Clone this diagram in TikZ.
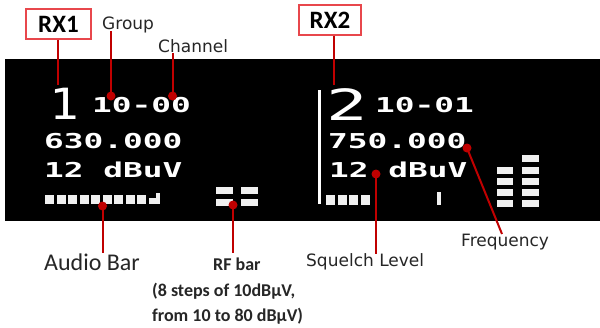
\documentclass[tikz,border=0pt]{standalone}
\usepackage{fontspec}
\setmainfont{Carlito}
\newfontfamily\dvs{DejaVu Sans}
\newfontfamily\lcd{DejaVu Sans Mono}[FakeStretch=1.6]
\definecolor{ared}{HTML}{C00000}
\definecolor{bred}{HTML}{E8474C}
\begin{document}
\begin{tikzpicture}[x=1pt,y=-1pt,
  lcdtxt/.style={text=white,inner sep=0pt,anchor=base west,font=\lcd\bfseries\fontsize{20.5}{20.5}\selectfont},
  bigtxt/.style={text=white,inner sep=0pt,anchor=base west,font=\lcd\fontsize{43}{43}\selectfont},
  seg/.style={fill=white!88!gray,draw=none},
  rxbox/.style={draw=bred,line width=1.3pt,fill=white,minimum width=#1,minimum height=30pt,inner sep=0pt,font=\bfseries\fontsize{25}{25}\selectfont},
  callout/.style={draw=ared,line width=2pt},
  dotmark/.style={circle,fill=ared,inner sep=0pt,minimum size=9pt},
  dvslbl/.style={inner sep=0pt,anchor=base west,text=black!85,font=\dvs\fontsize{17}{17}\selectfont},
  cllbl/.style={inner sep=0pt,anchor=base,text=black!85,font=\fontsize{24}{24}\selectfont},
  bldlbl/.style={inner sep=0pt,anchor=base west,text=black!85,font=\bfseries\fontsize{18}{18}\selectfont}
]
\useasboundingbox (0,0) rectangle (600,327);
\fill[white] (0,0) rectangle (600,327);
% screen
\fill[black] (5,59) rectangle (600,221);

% RX1 display
\node[bigtxt] (one) at (49,119) {\scalebox{0.72}[1]{1}};
\node[lcdtxt] (grpch1) at (92,112) {10-00};
\node[lcdtxt] (freq1) at (44,148) {630.000};
\node[lcdtxt] (sq1) at (44,177) {12 dBuV};
% audio bar RX1
\foreach \i in {0,...,8} {\fill[seg] (45+11.5*\i,195) rectangle (54+11.5*\i,204);}
\fill[seg] (148.5,198) rectangle (156,204);
\fill[seg] (156,193) rectangle (160,204);
% RF bar RX1
\fill[seg] (216,187) rectangle (233,194);
\fill[seg] (241,187) rectangle (258,194);
\fill[seg] (216,199) rectangle (233,206);
\fill[seg] (241,199) rectangle (258,206);

% RX2 display
\fill[white] (318,90) rectangle (321,204);
\node[bigtxt] (two) at (326,120) {2};
\node[lcdtxt] (grpch2) at (375,112) {10-01};
\node[lcdtxt] (freq2) at (328,148) {750.000};
\node[lcdtxt] (sq2) at (329,177) {12 dBuV};
\foreach \i in {0,...,3} {\fill[seg] (326+11.5*\i,195) rectangle (335+11.5*\i,205);}
\fill[seg] (437,192) rectangle (441,205);
\foreach \yy in {167,178,189,200} {\fill[seg] (497,\yy) rectangle (513,\yy+7);}
\foreach \yy in {155,167,178,189,200} {\fill[seg] (522,\yy) rectangle (539,\yy+7);}

% labels
\node[rxbox=65pt] (rx1) at (58.5,24) {RX1};
\node[rxbox=62pt] (rx2) at (330,20) {RX2};
\node[dvslbl] (group) at (102,29) {Group};
\node[dvslbl] (channel) at (158,52) {Channel};
\node[cllbl] (audio) at (92,270) {Audio Bar};
\node[bldlbl] (rfbar) at (213,270) {RF bar};
\node[bldlbl] (rfl1) at (152,296) {(8 steps of 10dBµV,};
\node[bldlbl] (rfl2) at (152,321) {from 10 to 80 dBµV)};
\node[dvslbl] (squelch) at (306,266) {Squelch Level};
\node[dvslbl] (frequency) at (461,246) {Frequency};

% callout points
\coordinate (rx1end) at (58,85);
\coordinate (rx2end) at (334,85);
\node[dotmark] (gdot) at (111,96) {};
\node[dotmark] (cdot) at (172.5,96) {};
\node[dotmark] (adot) at (102.5,206) {};
\node[dotmark] (rdot) at (233,205) {};
\node[dotmark] (sdot) at (376,174) {};
\node[dotmark] (fdot) at (467,148) {};
\coordinate (gtop) at (111,31);
\coordinate (ctop) at (172.5,53);
\coordinate (abot) at (102.5,253);
\coordinate (rbot) at (233,253);
\coordinate (sbot) at (376,254);
\coordinate (fbot) at (502,234);

\draw[callout] (rx1.south -| rx1end) -- (rx1end);
\draw[callout] (rx2.south -| rx2end) -- (rx2end);
\draw[callout] (gtop) -- (gdot.center);
\draw[callout] (ctop) -- (cdot.center);
\draw[callout] (adot.center) -- (abot);
\draw[callout] (rdot.center) -- (rbot);
\draw[callout] (sdot.center) -- (sbot);
\draw[callout] (fdot.center) -- (fbot);
\end{tikzpicture}
\end{document}
